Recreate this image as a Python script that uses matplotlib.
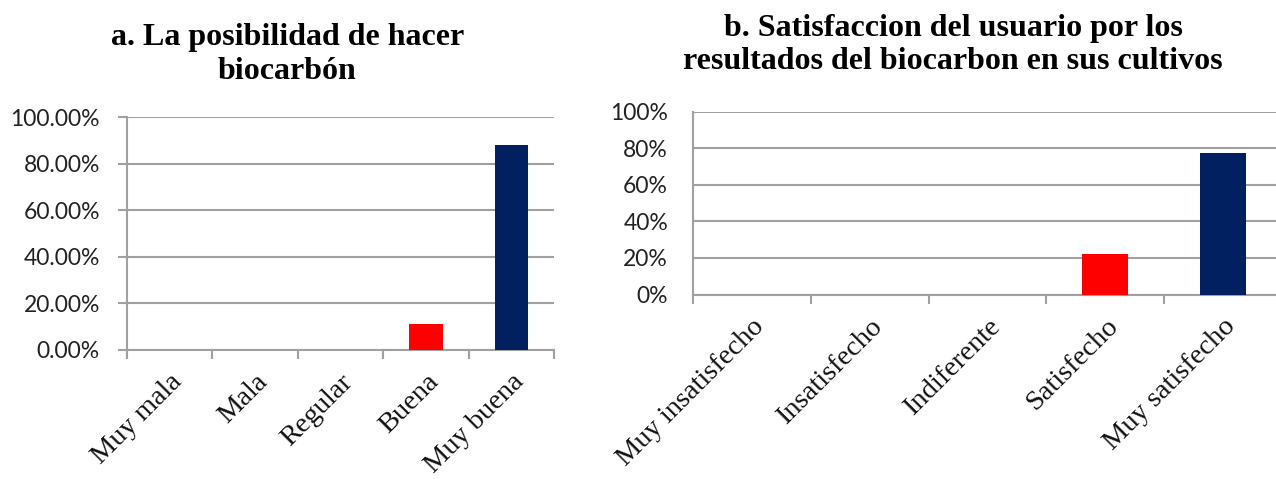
import numpy as np
import matplotlib
matplotlib.use("Agg")
from matplotlib import pyplot as plt
from matplotlib.ticker import FixedLocator

# chart a
cats_a = ["Muy mala", "Mala", "Regular", "Buena", "Muy buena"]
vals_a = [0.0, 0.0, 0.0, 11.0, 88.1]
yticks_a = [0, 20, 40, 60, 80, 100]

# chart b
cats_b = ["Muy insatisfecho", "Insatisfecho", "Indiferente", "Satisfecho", "Muy satisfecho"]
vals_b = [0.0, 0.0, 0.0, 22.0, 77.5]
yticks_b = [0, 20, 40, 60, 80, 100]

bar_colors = ["#FF0000", "#FF0000", "#FF0000", "#FF0000", "#002060"]
grid_c = "#a0a0a0"
serif = ["Liberation Serif", "DejaVu Serif"]
sans = ["Lato", "DejaVu Sans"]

W, H = 1276.0, 479.0


def px_rect(x0, y0, x1, y1):
    # pixel box -> figure fraction
    return [x0 / W, 1 - y1 / H, (x1 - x0) / W, (y1 - y0) / H]


def makePanel(fig, rect, cats, vals, yticks, fmt, ytick_len, ypad):
    ax = fig.add_axes(rect)
    x = np.arange(len(cats))
    ax.bar(x, vals, width=0.39, color=bar_colors, zorder=3)
    ax.set_xlim(-0.5, len(cats) - 0.5)
    ax.set_ylim(0, 100)
    ax.set_yticks(yticks)
    ax.set_yticklabels([fmt % v for v in yticks], family=sans, fontsize=16.5, color="#222222")
    ax.yaxis.grid(True, color=grid_c, linewidth=1.5, zorder=0)
    ax.tick_params(axis="y", length=ytick_len, color=grid_c, width=1.5, pad=ypad)

    # category labels at centers, tick marks at category boundaries
    ax.set_xticks(x)
    ax.set_xticklabels(cats, family=serif, fontsize=20.5, rotation=45,
                       ha="right", rotation_mode="anchor", color="#111111")
    ax.tick_params(axis="x", which="major", length=0, pad=14)
    ax.xaxis.set_minor_locator(FixedLocator(np.arange(-0.5, len(cats), 1.0)))
    ax.tick_params(axis="x", which="minor", length=6.5, color=grid_c, width=1.5)

    for s in ["top", "right"]:
        ax.spines[s].set_visible(False)
    for s in ["left", "bottom"]:
        ax.spines[s].set_color(grid_c)
        ax.spines[s].set_linewidth(1.5)
    return ax


fig = plt.figure(figsize=(12.76, 4.79), dpi=100, facecolor="w")

makePanel(fig, px_rect(127, 117, 554, 350), cats_a, vals_a, yticks_a, "%.2f%%", 6.5, 13)
makePanel(fig, px_rect(693, 112, 1282, 294.5), cats_b, vals_b, yticks_b, "%d%%", 0, 18)

# titles: baseline of the last line
fig.text(287.5 / W, 1 - 79 / H, "a. La posibilidad de hacer\nbiocarbón", ha="center",
         va="baseline", family=serif, fontweight="bold", fontsize=23, linespacing=1.25,
         multialignment="center")
fig.text(953 / W, 1 - 69 / H,
         "b. Satisfaccion del usuario por los\nresultados del biocarbon en sus cultivos",
         ha="center", va="baseline", family=serif, fontweight="bold", fontsize=23,
         linespacing=1.2, multialignment="center")

fig.savefig("out.png", dpi=100, facecolor="w")
